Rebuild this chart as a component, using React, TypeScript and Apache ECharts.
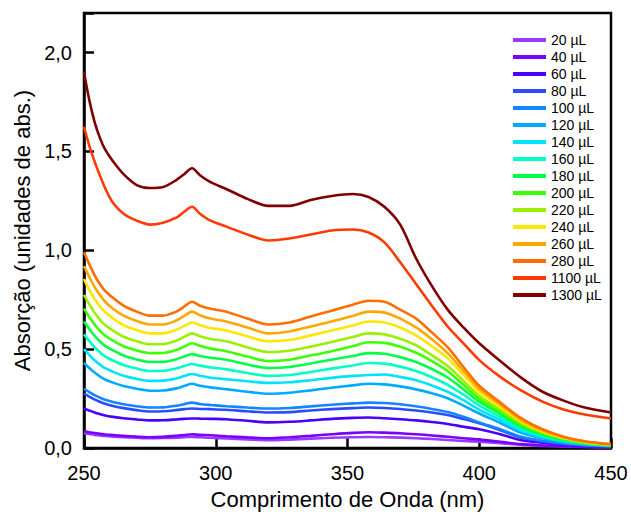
import React, { useEffect, useRef } from "react";
import * as echarts from "echarts";

const wavelengths = [250, 252, 254, 256, 258, 261, 265, 270, 275, 280, 285, 288, 291, 294, 298, 304, 312, 320, 328, 336, 344, 352, 358, 364, 370, 376, 382, 388, 394, 400, 408, 416, 424, 432, 440, 450];

const seriesNames = ["20 µL", "40 µL", "60 µL", "80 µL", "100 µL", "120 µL", "140 µL", "160 µL", "180 µL", "200 µL", "220 µL", "240 µL", "260 µL", "280 µL", "1100 µL", "1300 µL"];

const seriesColors = ["#9a3cff", "#7a00ff", "#4a00ff", "#2a4cff", "#1485ff", "#00aaff", "#00e2ff", "#00ffc4", "#00ff48", "#3cff00", "#9af000", "#ffe600", "#ffa600", "#ff6e00", "#ff3a00", "#800000"];

const v20 = [0.075, 0.071, 0.067, 0.064, 0.061, 0.058, 0.055, 0.052, 0.05, 0.051, 0.053, 0.055, 0.057, 0.055, 0.052, 0.049, 0.044, 0.04, 0.043, 0.048, 0.052, 0.055, 0.056, 0.055, 0.053, 0.05, 0.046, 0.041, 0.036, 0.032, 0.025, 0.016, 0.011, 0.008, 0.006, 0.004];
const v40 = [0.085, 0.08, 0.076, 0.072, 0.069, 0.066, 0.062, 0.058, 0.055, 0.057, 0.062, 0.066, 0.07, 0.067, 0.065, 0.06, 0.054, 0.05, 0.055, 0.062, 0.07, 0.077, 0.08, 0.078, 0.075, 0.07, 0.064, 0.057, 0.05, 0.043, 0.032, 0.02, 0.014, 0.01, 0.007, 0.005];
const v60 = [0.2, 0.19, 0.18, 0.172, 0.165, 0.158, 0.151, 0.145, 0.14, 0.141, 0.145, 0.148, 0.15, 0.149, 0.148, 0.146, 0.138, 0.13, 0.133, 0.14, 0.148, 0.153, 0.155, 0.151, 0.146, 0.14, 0.132, 0.122, 0.108, 0.095, 0.07, 0.04, 0.027, 0.017, 0.011, 0.007];
const v80 = [0.275, 0.26, 0.246, 0.234, 0.224, 0.213, 0.202, 0.192, 0.185, 0.186, 0.192, 0.197, 0.2, 0.198, 0.197, 0.194, 0.186, 0.18, 0.182, 0.19, 0.197, 0.202, 0.205, 0.203, 0.198, 0.19, 0.18, 0.167, 0.147, 0.125, 0.09, 0.053, 0.034, 0.021, 0.014, 0.008];
const v100 = [0.3, 0.283, 0.268, 0.255, 0.244, 0.233, 0.222, 0.212, 0.205, 0.206, 0.214, 0.222, 0.23, 0.223, 0.218, 0.212, 0.205, 0.2, 0.203, 0.211, 0.219, 0.226, 0.23, 0.228, 0.222, 0.212, 0.198, 0.182, 0.158, 0.13, 0.095, 0.057, 0.037, 0.023, 0.015, 0.009];
const v120 = [0.43, 0.405, 0.382, 0.363, 0.347, 0.331, 0.314, 0.3, 0.29, 0.291, 0.302, 0.314, 0.325, 0.315, 0.307, 0.298, 0.285, 0.275, 0.28, 0.292, 0.305, 0.317, 0.325, 0.322, 0.312, 0.297, 0.277, 0.252, 0.215, 0.175, 0.127, 0.077, 0.05, 0.03, 0.019, 0.011];
const v140 = [0.5, 0.471, 0.444, 0.422, 0.404, 0.386, 0.366, 0.35, 0.34, 0.341, 0.352, 0.364, 0.375, 0.366, 0.356, 0.348, 0.338, 0.33, 0.333, 0.343, 0.355, 0.365, 0.37, 0.372, 0.36, 0.343, 0.317, 0.285, 0.242, 0.195, 0.142, 0.087, 0.056, 0.034, 0.021, 0.012];
const v160 = [0.575, 0.541, 0.51, 0.485, 0.464, 0.443, 0.42, 0.402, 0.39, 0.391, 0.403, 0.415, 0.425, 0.417, 0.408, 0.398, 0.38, 0.365, 0.37, 0.385, 0.402, 0.418, 0.43, 0.427, 0.412, 0.39, 0.358, 0.32, 0.27, 0.215, 0.157, 0.097, 0.062, 0.038, 0.023, 0.013];
const v180 = [0.64, 0.602, 0.568, 0.54, 0.517, 0.494, 0.468, 0.448, 0.435, 0.436, 0.449, 0.463, 0.475, 0.466, 0.457, 0.447, 0.423, 0.405, 0.41, 0.428, 0.447, 0.466, 0.48, 0.477, 0.46, 0.435, 0.4, 0.357, 0.297, 0.235, 0.172, 0.107, 0.068, 0.042, 0.025, 0.014];
const v200 = [0.705, 0.663, 0.625, 0.594, 0.569, 0.543, 0.515, 0.494, 0.48, 0.481, 0.496, 0.513, 0.53, 0.517, 0.503, 0.49, 0.463, 0.44, 0.447, 0.468, 0.49, 0.515, 0.535, 0.532, 0.512, 0.482, 0.44, 0.39, 0.32, 0.25, 0.183, 0.117, 0.075, 0.046, 0.027, 0.015];
const v220 = [0.775, 0.728, 0.685, 0.65, 0.622, 0.594, 0.563, 0.54, 0.525, 0.526, 0.543, 0.562, 0.58, 0.566, 0.552, 0.54, 0.51, 0.485, 0.492, 0.513, 0.537, 0.562, 0.58, 0.575, 0.553, 0.52, 0.47, 0.415, 0.34, 0.265, 0.195, 0.125, 0.08, 0.049, 0.029, 0.016];
const v240 = [0.855, 0.8, 0.755, 0.718, 0.688, 0.656, 0.622, 0.597, 0.58, 0.58, 0.598, 0.617, 0.635, 0.622, 0.607, 0.595, 0.565, 0.54, 0.547, 0.57, 0.595, 0.62, 0.64, 0.635, 0.61, 0.57, 0.515, 0.455, 0.37, 0.285, 0.21, 0.135, 0.085, 0.052, 0.031, 0.017];
const v260 = [0.92, 0.865, 0.815, 0.775, 0.74, 0.705, 0.67, 0.643, 0.625, 0.625, 0.645, 0.668, 0.69, 0.672, 0.655, 0.64, 0.61, 0.58, 0.59, 0.615, 0.64, 0.668, 0.69, 0.685, 0.655, 0.61, 0.55, 0.48, 0.39, 0.3, 0.22, 0.142, 0.09, 0.055, 0.033, 0.018];
const v280 = [0.99, 0.93, 0.875, 0.83, 0.795, 0.76, 0.72, 0.69, 0.67, 0.67, 0.69, 0.715, 0.74, 0.72, 0.705, 0.69, 0.655, 0.625, 0.635, 0.665, 0.695, 0.725, 0.745, 0.74, 0.7, 0.655, 0.585, 0.51, 0.41, 0.315, 0.23, 0.15, 0.095, 0.058, 0.035, 0.02];
const v1100 = [1.625, 1.53, 1.45, 1.38, 1.315, 1.24, 1.185, 1.15, 1.13, 1.14, 1.165, 1.195, 1.22, 1.185, 1.15, 1.12, 1.08, 1.05, 1.06, 1.08, 1.1, 1.105, 1.09, 1.04, 0.94, 0.83, 0.72, 0.615, 0.53, 0.445, 0.36, 0.29, 0.235, 0.195, 0.17, 0.15];
const v1300 = [1.9, 1.76, 1.65, 1.57, 1.51, 1.45, 1.385, 1.33, 1.315, 1.32, 1.355, 1.385, 1.415, 1.38, 1.345, 1.31, 1.26, 1.225, 1.225, 1.255, 1.275, 1.285, 1.27, 1.22, 1.13, 0.96, 0.82, 0.7, 0.61, 0.53, 0.44, 0.355, 0.285, 0.24, 0.205, 0.18];

const allValues = [v20, v40, v60, v80, v100, v120, v140, v160, v180, v200, v220, v240, v260, v280, v1100, v1300];

const xTicks = { min: 250, max: 450, interval: 50 };
const yTicks = { min: 0, max: 2.2, interval: 0.5 };

const FONT = "'Liberation Sans', Arial, sans-serif";

export default function App() {
  const ref = useRef<HTMLDivElement>(null);
  useEffect(() => {
    if (!ref.current) return;
    const chart = echarts.init(ref.current, undefined, { renderer: "svg" });
    const series = allValues.map((vals, i) => ({
      name: seriesNames[i],
      type: "line",
      data: wavelengths.map((w, j) => [w, vals[j]]),
      showSymbol: false,
      smooth: 0.3,
      lineStyle: { color: seriesColors[i], width: 2.6 },
      itemStyle: { color: seriesColors[i] },
    }));
    chart.setOption({
      animation: false,
      backgroundColor: "#fff",
      textStyle: { fontFamily: FONT },
      grid: { left: 84, right: 20, top: 13, bottom: 62, show: true, borderColor: "#000", borderWidth: 2.5 },
      legend: {
        orient: "vertical",
        left: 508,
        top: 28,
        itemWidth: 33,
        itemHeight: 4,
        itemGap: 3,
        icon: "rect",
        data: seriesNames,
        textStyle: { fontSize: 14, color: "#000", fontFamily: FONT, lineHeight: 14 },
      },
      xAxis: {
        type: "value",
        min: xTicks.min,
        max: xTicks.max,
        interval: xTicks.interval,
        name: "Comprimento de Onda (nm)",
        nameLocation: "middle",
        nameGap: 38,
        nameTextStyle: { fontSize: 22, color: "#000", fontFamily: FONT },
        axisLine: { show: true, lineStyle: { color: "#000", width: 2.5 } },
        axisTick: { show: true, inside: true, length: 10, lineStyle: { color: "#000", width: 2.5 } },
        axisLabel: { fontSize: 20, color: "#000", margin: 15, fontFamily: FONT },
        splitLine: { show: false },
      },
      yAxis: {
        type: "value",
        min: yTicks.min,
        max: yTicks.max,
        interval: yTicks.interval,
        name: "Absorção (unidades de abs.)",
        nameLocation: "middle",
        nameGap: 51,
        nameTextStyle: { fontSize: 22, color: "#000", fontFamily: FONT },
        axisLine: { show: true, lineStyle: { color: "#000", width: 2.5 } },
        axisTick: { show: true, inside: true, length: 10, lineStyle: { color: "#000", width: 2.5 } },
        axisLabel: {
          fontSize: 20,
          color: "#000",
          margin: 12,
          fontFamily: FONT,
          formatter: (v: number) => (v > 2.1 ? "" : v.toFixed(1).replace(".", ",")),
        },
        splitLine: { show: false },
      },
      series,
    });
    return () => chart.dispose();
  }, []);
  return <div ref={ref} style={{ position: "fixed", left: 0, top: 0, width: 631, height: 515 }} />;
}
